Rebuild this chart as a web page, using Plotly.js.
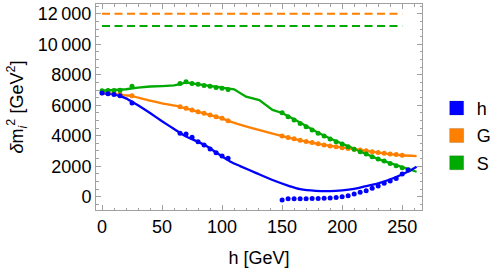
<!DOCTYPE html>
<html>
<head>
<meta charset="utf-8">
<script src="https://cdn.plot.ly/plotly-3.0.1.min.js"></script>
<style>html,body{margin:0;padding:0;background:#fff;}#chart{width:501px;height:273px;}</style>
</head>
<body>
<div id="chart"></div>
<script>
// ---- data ----
const lineHx = [0,10,15,20,25,30,40,50,60,70,80,88,96,107,115,129,142,156,165,178,190,200,210,218,230,243,255,262];
const lineHy = [6800,6720,6600,6450,6230,6000,5490,4950,4440,3950,3600,3280,2850,2300,2010,1530,1095,700,500,390,370,420,520,660,880,1230,1650,1970];

const lineGx = [0,10,20,25,40,50,65,80,100,105,125,150,170,190,210,230,250,262];
const lineGy = [6800,6750,6650,6600,6300,6120,5900,5570,5140,4980,4500,3980,3620,3330,3120,2900,2720,2660];

const lineSx = [0,10,20,30,40,50,60,65,70,75,80,90,100,110,120,125,131,142,150,160,170,180,190,200,210,220,230,240,250,262];
const lineSy = [6950,7000,7050,7150,7230,7260,7300,7380,7500,7440,7380,7260,7120,7050,6560,6450,6340,5690,5490,5080,4620,4200,3820,3480,3100,2800,2470,2200,1950,1640];

const dotsHx = [0,5,10,15,25,65,70,75,80,85,90,95,100,105,150,155,160,165,170,175,180,185,190,195,200,205,210,215,220,225,230,235,240,245,250,255];
const dotsHy = [6800,6760,6700,6620,6150,4160,4110,3900,3610,3390,3130,2890,2670,2520,-216,-130,-130,-130,-130,-120,-110,-100,-80,-50,0,65,180,290,395,550,700,880,1030,1200,1490,1750];

const dotsGx = [0,5,10,15,25,65,70,75,80,85,90,95,100,105,150,155,160,165,170,175,180,185,190,195,200,205,210,215,220,225,230,235,240,245,250];
const dotsGy = [6800,6790,6770,6740,6620,5900,5800,5690,5570,5470,5360,5250,5140,4980,3980,3890,3800,3710,3620,3550,3470,3400,3330,3280,3220,3170,3120,3060,3010,2950,2900,2860,2810,2770,2720];

const dotsSx = [0,5,10,15,25,65,70,75,80,85,90,95,100,105,150,155,160,165,170,175,180,185,190,195,200,205,210,215,220,225,230,235,240,245,250,255];
const dotsSy = [6950,6960,6970,6980,7250,7430,7540,7430,7370,7300,7240,7170,7110,7040,5510,5250,5030,4810,4590,4370,4160,3980,3780,3610,3460,3280,3110,2950,2800,2620,2470,2340,2180,2030,1900,1770];

const dashX = [0,250];
const dashG = 12000;
const dashS = 11200;

const seriesNames = ['h','G','S'];
const colors = {h:'#0000ff', G:'#ff8000', S:'#00aa00'};

const yTickVals = [0,2000,4000,6000,8000,10000,12000];
const yTickText = ['0','2000','4000','6000','8000','10\u2009000','12\u2009000'];
const xTickVals = [0,50,100,150,200,250];

// ---- traces ----
const traces = [];
traces.push({x:dashX, y:[dashG,dashG], mode:'lines', line:{color:colors.G, width:2, dash:'8px,4.5px'}, showlegend:false, hoverinfo:'skip'});
traces.push({x:dashX, y:[dashS,dashS], mode:'lines', line:{color:colors.S, width:2, dash:'8px,4.5px'}, showlegend:false, hoverinfo:'skip'});
traces.push({x:lineGx, y:lineGy, mode:'lines', line:{color:colors.G, width:2.3, shape:'spline', smoothing:0.5}, showlegend:false});
traces.push({x:lineSx, y:lineSy, mode:'lines', line:{color:colors.S, width:2.3}, showlegend:false});
traces.push({x:lineHx, y:lineHy, mode:'lines', line:{color:colors.h, width:2.3, shape:'spline', smoothing:0.6}, showlegend:false});
traces.push({x:dotsGx, y:dotsGy, mode:'markers', marker:{color:colors.G, size:5}, showlegend:false});
traces.push({x:dotsSx, y:dotsSy, mode:'markers', marker:{color:colors.S, size:5}, showlegend:false});
traces.push({x:dotsHx, y:dotsHy, mode:'markers', marker:{color:colors.h, size:5}, showlegend:false});
seriesNames.forEach((n,i)=>{
  traces.push({x:[null], y:[null], name:n, mode:'markers', legendgroup:n,
    marker:{symbol:'square', color:colors[n], size:14, line:{color:'rgba(0,0,0,0.25)', width:0.6}}});
});

const axisCommon = {
  showgrid:false, zeroline:false, showline:true, linecolor:'#a0a0a0', linewidth:1,
  mirror:'allticks', ticks:'inside', ticklen:5, tickcolor:'#a0a0a0', tickwidth:1,
  tickfont:{size:18, color:'#000'},
  minor:{ticks:'inside', ticklen:2.5, tickcolor:'#a0a0a0', tickwidth:1}
};

const layout = {
  width:501, height:273,
  margin:{l:96, r:72, t:4, b:63},
  paper_bgcolor:'#fff', plot_bgcolor:'#fff',
  font:{family:'Liberation Sans, Arial, sans-serif', size:18, color:'#000'},
  xaxis:Object.assign({}, axisCommon, {
    range:[-5,266.5], tickvals:xTickVals, minor:Object.assign({}, axisCommon.minor, {dtick:10, tick0:0}),
    title:{text:'h [GeV]', font:{size:18}, standoff:15}
  }),
  yaxis:Object.assign({}, axisCommon, {
    range:[-870,12640], tickvals:yTickVals, ticktext:yTickText,
    minor:Object.assign({}, axisCommon.minor, {dtick:500, tick0:0}),
    title:{text:'<i>δ</i>m<sub><i>i</i></sub><sup>2</sup> [GeV<sup>2</sup>]', font:{size:18}, standoff:9}
  }),
  legend:{x:1.045, xanchor:'left', y:0.36, yanchor:'middle', traceorder:'grouped', tracegroupgap:1,
    font:{size:18}, bgcolor:'rgba(0,0,0,0)'},
  showlegend:true
};

Plotly.newPlot('chart', traces, layout, {staticPlot:true, displayModeBar:false});
</script>
</body>
</html>
